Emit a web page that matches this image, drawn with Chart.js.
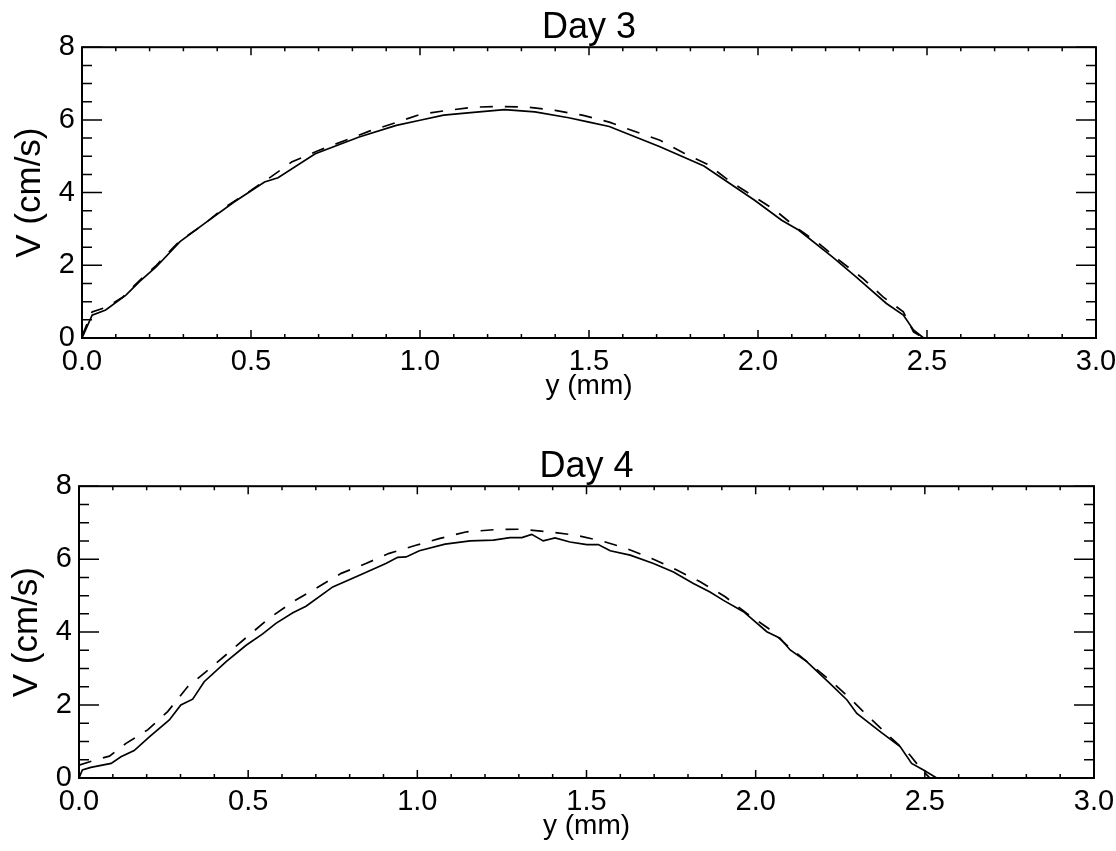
<!DOCTYPE html>
<html>
<head>
<meta charset="utf-8">
<script src="https://cdn.jsdelivr.net/npm/chart.js@4.4.1/dist/chart.umd.min.js"></script>
<style>
  html, body { margin: 0; padding: 0; background: #fff; overflow: hidden; width: 1116px; height: 851px; }
  canvas { position: absolute; left: 0; }
</style>
</head>
<body>
<canvas id="day3Chart" width="1150" height="425" style="top:0"></canvas>
<canvas id="day4Chart" width="1150" height="425" style="top:440px"></canvas>
<script>
// --- data (y in mm, V in cm/s) ---
const day3SolidY = [0.00, 0.03, 0.07, 0.13, 0.17, 0.22, 0.29, 0.37, 0.45, 0.54, 0.58, 0.69, 0.82, 0.93, 1.00, 1.07, 1.15, 1.25, 1.34, 1.44, 1.50, 1.56, 1.71, 1.84, 1.91, 1.99, 2.07, 2.12, 2.22, 2.29, 2.38, 2.43, 2.46, 2.49];
const day3SolidV = [0.00, 0.63, 0.77, 1.18, 1.55, 1.96, 2.65, 3.20, 3.74, 4.29, 4.41, 5.07, 5.53, 5.85, 5.99, 6.13, 6.20, 6.28, 6.22, 6.06, 5.94, 5.82, 5.26, 4.73, 4.29, 3.79, 3.24, 2.97, 2.23, 1.68, 0.95, 0.63, 0.22, 0.00];

const day3DashedY = [0.00, 0.03, 0.07, 0.12, 0.17, 0.22, 0.29, 0.36, 0.42, 0.49, 0.56, 0.62, 0.70, 0.78, 0.85, 0.93, 1.00, 1.08, 1.16, 1.24, 1.32, 1.40, 1.48, 1.56, 1.63, 1.71, 1.78, 1.85, 1.92, 1.99, 2.05, 2.11, 2.18, 2.24, 2.31, 2.37, 2.43, 2.46, 2.49];
const day3DashedV = [0.05, 0.72, 0.84, 1.12, 1.58, 2.00, 2.68, 3.12, 3.58, 4.00, 4.44, 4.84, 5.16, 5.44, 5.69, 5.93, 6.15, 6.26, 6.35, 6.37, 6.35, 6.26, 6.13, 5.94, 5.70, 5.44, 5.09, 4.78, 4.29, 3.88, 3.52, 3.06, 2.60, 2.14, 1.64, 1.13, 0.72, 0.17, 0.00];

const day4SolidY = [0.00, 0.01, 0.035, 0.095, 0.124, 0.163, 0.208, 0.267, 0.301, 0.336, 0.37, 0.435, 0.494, 0.543, 0.582, 0.632, 0.671, 0.75, 0.829, 0.907, 0.942, 0.967, 1.006, 1.082, 1.156, 1.225, 1.274, 1.309, 1.338, 1.372, 1.407, 1.451, 1.501, 1.535, 1.570, 1.629, 1.698, 1.757, 1.816, 1.865, 1.905, 1.964, 2.033, 2.072, 2.102, 2.151, 2.22, 2.27, 2.299, 2.368, 2.427, 2.461, 2.496, 2.535];
const day4SolidV = [0.00, 0.22, 0.29, 0.40, 0.58, 0.75, 1.13, 1.59, 2.00, 2.16, 2.64, 3.19, 3.64, 3.95, 4.24, 4.53, 4.71, 5.24, 5.56, 5.88, 6.05, 6.06, 6.23, 6.41, 6.50, 6.52, 6.59, 6.59, 6.68, 6.50, 6.58, 6.47, 6.40, 6.40, 6.23, 6.11, 5.88, 5.65, 5.33, 5.10, 4.87, 4.56, 4.01, 3.83, 3.51, 3.19, 2.59, 2.14, 1.77, 1.27, 0.86, 0.40, 0.22, 0.00];

const day4DashedY = [0.00, 0.05, 0.09, 0.139, 0.203, 0.262, 0.321, 0.375, 0.44, 0.503, 0.562, 0.632, 0.70, 0.775, 0.848, 0.917, 0.996, 1.067, 1.146, 1.23, 1.304, 1.387, 1.466, 1.545, 1.619, 1.693, 1.767, 1.836, 1.91, 1.974, 2.038, 2.097, 2.22, 2.279, 2.338, 2.397, 2.456, 2.491, 2.515];
const day4DashedV = [0.35, 0.50, 0.60, 0.95, 1.32, 1.82, 2.50, 2.91, 3.42, 3.92, 4.38, 4.83, 5.20, 5.61, 5.88, 6.16, 6.38, 6.57, 6.75, 6.81, 6.82, 6.75, 6.66, 6.50, 6.29, 6.02, 5.70, 5.38, 4.97, 4.51, 4.10, 3.60, 2.68, 2.18, 1.64, 1.13, 0.63, 0.22, 0.00];

const FONT = "'Liberation Sans', Arial, Helvetica, sans-serif";

// box around the plot with inward ticks on all four sides
const frameTicks = {
    id: 'frameTicks',
    afterDraw(chart) {
        const { ctx, chartArea: a, scales: { x, y } } = chart;
        ctx.save();
        ctx.strokeStyle = '#000';
        ctx.lineWidth = 2;
        ctx.strokeRect(a.left, a.top, a.right - a.left, a.bottom - a.top);
        ctx.lineWidth = 1.5;
        ctx.beginPath();
        for (let i = 0; i <= 30; i++) {
            const px = x.getPixelForValue(i / 10);
            const len = i % 5 === 0 ? 8 : 4;
            ctx.moveTo(px, a.bottom); ctx.lineTo(px, a.bottom - len);
            ctx.moveTo(px, a.top); ctx.lineTo(px, a.top + len);
        }
        for (let i = 0; i <= 16; i++) {
            const py = y.getPixelForValue(i / 2);
            const len = i % 4 === 0 ? 20 : 10;
            ctx.moveTo(a.left, py); ctx.lineTo(a.left + len, py);
            ctx.moveTo(a.right, py); ctx.lineTo(a.right - len, py);
        }
        ctx.stroke();
        ctx.restore();
    }
};

const pts = (xs, vs) => xs.map((x, i) => ({ x, y: vs[i] }));

const makePanel = (id, title, solidY, solidV, dashY, dashV, box) => {
    new Chart(document.getElementById(id), {
        type: 'line',
        data: {
            datasets: [
                { label: 'solid', data: pts(solidY, solidV), borderColor: '#000', borderWidth: 1.7, pointRadius: 0, tension: 0, fill: false },
                { label: 'dashed', data: pts(dashY, dashV), borderColor: '#000', borderWidth: 1.7, borderDash: [13, 12], pointRadius: 0, tension: 0, fill: false }
            ]
        },
        options: {
            responsive: false,
            animation: false,
            events: [],
            layout: { padding: { left: 0, right: box.right, top: 0, bottom: 15 } },
            plugins: {
                legend: { display: false },
                tooltip: { enabled: false },
                title: {
                    display: true, text: title, color: '#000', fullSize: false,
                    font: { family: FONT, size: 36, weight: 'normal', lineHeight: 1.2 },
                    padding: { top: box.titleTop, bottom: box.titleBottom }
                }
            },
            scales: {
                x: {
                    type: 'linear', min: 0, max: 3,
                    grid: { display: false, drawTicks: false },
                    border: { display: false },
                    ticks: {
                        stepSize: 0.5, autoSkip: false, maxRotation: 0, padding: 7, color: '#000',
                        font: { family: FONT, size: 29 },
                        callback: v => v.toFixed(1)
                    },
                    title: {
                        display: true, text: 'y (mm)', color: '#000',
                        font: { family: FONT, size: 28, lineHeight: 1.2 },
                        padding: { top: 0, bottom: 7 }
                    },
                    afterFit: s => { s.height = 72; }
                },
                y: {
                    min: 0, max: 8,
                    grid: { display: false, drawTicks: false },
                    border: { display: false },
                    ticks: {
                        stepSize: 2, autoSkip: false, padding: 7, color: '#000',
                        font: { family: FONT, size: 29 }
                    },
                    title: {
                        display: true, text: 'V (cm/s)', color: '#000',
                        font: { family: FONT, size: 35, lineHeight: 1.2 },
                        padding: { top: box.yTitle, bottom: 0 }
                    },
                    afterFit: s => { s.width = box.left; }
                }
            }
        },
        plugins: [frameTicks]
    });
};

document.addEventListener('DOMContentLoaded', () => {
    makePanel('day3Chart', 'Day 3', day3SolidY, day3SolidV, day3DashedY, day3DashedV,
        { left: 82, right: 54, titleTop: 6, titleBottom: -2, yTitle: 9 });
    makePanel('day4Chart', 'Day 4', day4SolidY, day4SolidV, day4DashedY, day4DashedV,
        { left: 79, right: 56, titleTop: 5, titleBottom: -2, yTitle: 6 });
});
</script>
</body>
</html>
